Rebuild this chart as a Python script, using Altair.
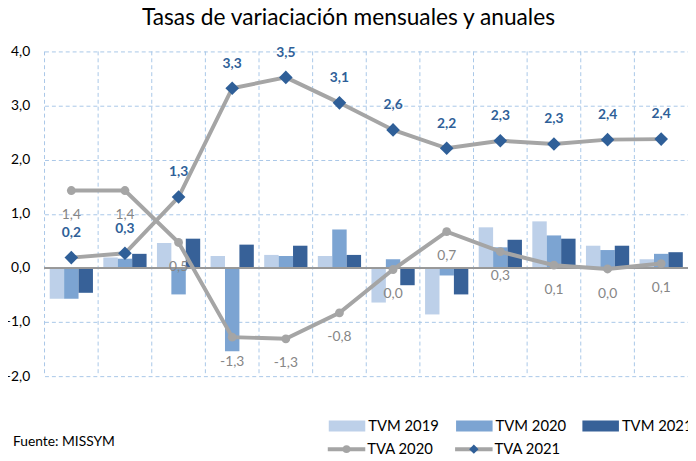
import altair as alt
import pandas as pd

months = ["ene", "feb", "mar", "abr", "may", "jun", "jul", "ago", "sep", "oct", "nov", "dic"]
tvm2019 = [-0.57, 0.19, 0.46, 0.22, 0.24, 0.22, -0.64, -0.86, 0.75, 0.86, 0.41, 0.16]
tvm2020 = [-0.57, 0.17, -0.49, -1.54, 0.22, 0.71, 0.16, -0.14, 0.38, 0.60, 0.33, 0.26]
tvm2021 = [-0.46, 0.26, 0.54, 0.43, 0.41, 0.24, -0.32, -0.49, 0.52, 0.54, 0.41, 0.29]
tva2020 = [1.43, 1.43, 0.47, -1.28, -1.31, -0.83, -0.03, 0.67, 0.30, 0.05, -0.02, 0.08]
tva2021 = [0.19, 0.27, 1.31, 3.32, 3.52, 3.05, 2.55, 2.21, 2.35, 2.29, 2.37, 2.38]
tva2020_labels = ["1,4", "1,4", "0,5", "-1,3", "-1,3", "-0,8", "0,0", "0,7", "0,3", "0,1", "0,0", "0,1"]
tva2021_labels = ["0,2", "0,3", "1,3", "3,3", "3,5", "3,1", "2,6", "2,2", "2,3", "2,3", "2,4", "2,4"]

bar_series = ["TVM 2019", "TVM 2020", "TVM 2021"]
bar_colors = ["#BDD0E9", "#7CA4D2", "#376198"]
line_gray = "#A5A5A5"
dark_blue = "#2F5F98"
grid_col = "#A9C7E8"
FONT = "Lato"

W, H = 652, 329

bars = pd.DataFrame(
    [{"month": m, "serie": s, "v": v}
     for s, vals in zip(bar_series, [tvm2019, tvm2020, tvm2021])
     for m, v in zip(months, vals)]
)
l20 = pd.DataFrame({"month": months, "v": tva2020, "lab": tva2020_labels})
l21 = pd.DataFrame({"month": months, "v": tva2021, "lab": tva2021_labels})
mdf = pd.DataFrame({"month": months})

xscale = alt.Scale(domain=months, paddingInner=0, paddingOuter=0)
yscale = alt.Scale(domain=[-2, 4], nice=False)

X = alt.X("month:N", sort=months, scale=xscale,
          axis=alt.Axis(title=None, labelAngle=0, ticks=False, domain=False, grid=False,
                        labelFontSize=14, labelColor="#000000", labelPadding=18, labelFont=FONT))
Y = alt.Y("v:Q", scale=yscale,
          axis=alt.Axis(title=None, values=[-2, -1, 0, 1, 2, 3, 4], ticks=False, domain=False,
                        grid=True, gridDash=[4, 3], gridColor=grid_col, gridWidth=1,
                        labelExpr="replace(format(datum.value, '.1f'), '.', ',')",
                        labelFontSize=14, labelColor="#000000", labelPadding=15, labelFont=FONT))

vgrid = alt.Chart(mdf).mark_rule(strokeDash=[4, 3], color=grid_col, strokeWidth=1).encode(
    x=alt.X("month:N", sort=months, scale=xscale, bandPosition=0, axis=None),
    y=alt.value(0), y2=alt.value(H))

barl = alt.Chart(bars).mark_bar().encode(
    x=X, y=Y,
    xOffset=alt.XOffset("serie:N", sort=bar_series,
                        scale=alt.Scale(domain=bar_series, paddingInner=0, paddingOuter=0.36)),
    color=alt.Color("serie:N", scale=alt.Scale(domain=bar_series, range=bar_colors), legend=None),
)

zero = alt.Chart(mdf).mark_rule(color="#9A9A9A", strokeWidth=1).encode(y=alt.datum(0))

line20 = alt.Chart(l20).mark_line(color=line_gray, strokeWidth=4).encode(x=X, y=Y)
pts20 = alt.Chart(l20).mark_point(filled=True, shape="circle", size=80, color=line_gray, opacity=1).encode(x=X, y=Y)
lab20 = alt.Chart(l20).mark_text(dy=25, fontSize=14, color="#868686", font=FONT).encode(x=X, y=Y, text="lab:N")

line21 = alt.Chart(l21).mark_line(color=line_gray, strokeWidth=4).encode(x=X, y=Y)
pts21 = alt.Chart(l21).mark_point(filled=True, shape="diamond", size=190, color=dark_blue, opacity=1).encode(x=X, y=Y)
lab21 = alt.Chart(l21).mark_text(dy=-25, fontSize=14, fontWeight="bold", color=dark_blue, font=FONT).encode(x=X, y=Y, text="lab:N")

# manual legend
leg_layers = []
one = pd.DataFrame({"a": [0]})
def txt(s, x, y, color="#000000", size=15):
    return alt.Chart(one).mark_text(text=s, align="left", baseline="middle", fontSize=size,
                                    color=color, font=FONT).encode(x=alt.value(x), y=alt.value(y))

sw_x = [288, 417, 545]
for s, c, x0 in zip(bar_series, bar_colors, sw_x):
    leg_layers.append(alt.Chart(one).mark_rect(color=c).encode(
        x=alt.value(x0), x2=alt.value(x0 + 37), y=alt.value(374), y2=alt.value(385)))
    leg_layers.append(txt(s, x0 + 40, 379.5))

for s, x0, shape, col, sz in [("TVA 2020", 287, "circle", line_gray, 60), ("TVA 2021", 416, "diamond", dark_blue, 90)]:
    leg_layers.append(alt.Chart(one).mark_rule(color=line_gray, strokeWidth=4).encode(
        x=alt.value(x0), x2=alt.value(x0 + 38), y=alt.value(403)))
    leg_layers.append(alt.Chart(one).mark_point(filled=True, shape=shape, size=sz, color=col, opacity=1).encode(
        x=alt.value(x0 + 19), y=alt.value(403)))
    leg_layers.append(txt(s, x0 + 40, 403))

leg_layers.append(txt("Fuente: MISSYM", -32, 396, size=14))

chart = alt.layer(vgrid, barl, zero, line20, pts20, lab20, line21, pts21, lab21, *leg_layers).properties(
    width=W, height=H,
    padding={"left": 37, "top": 41, "right": 0, "bottom": 85},
    autosize=alt.AutoSizeParams(type="none"),
    title=alt.TitleParams("Tasas de variaciación  mensuales  y anuales", fontSize=23, font=FONT,
                          fontWeight="normal", color="#000000", anchor="middle", dx=-18, offset=15),
).configure_view(stroke=None)

chart.save("out.html", embed_options={"renderer": "svg", "actions": False})
